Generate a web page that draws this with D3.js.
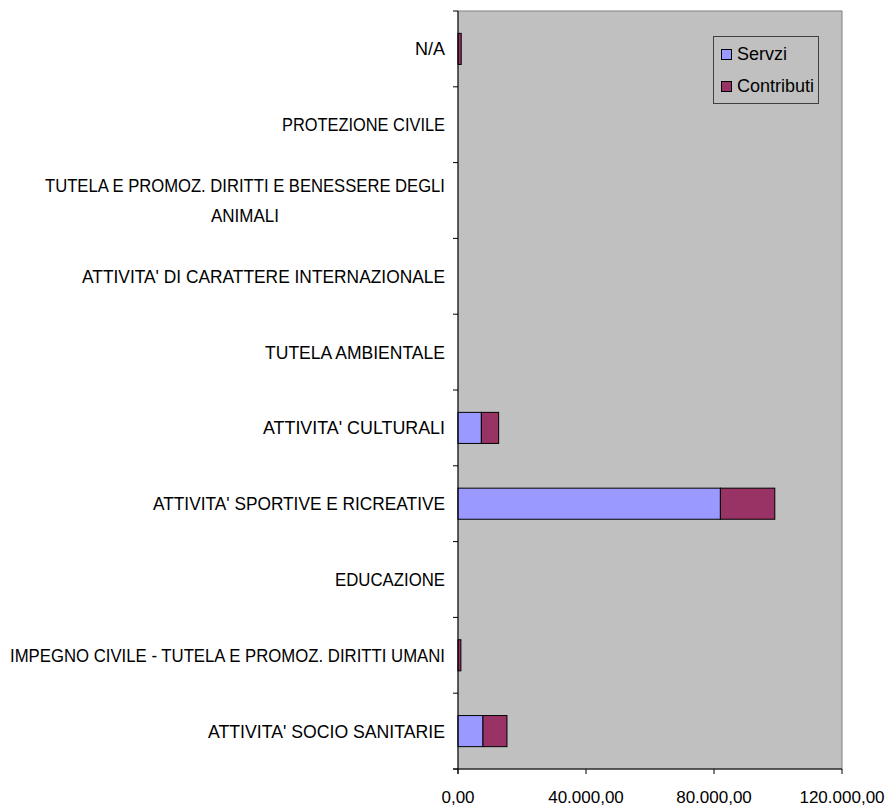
<!DOCTYPE html>
<html><head><meta charset="utf-8">
<script src="https://cdn.jsdelivr.net/npm/d3@7"></script>
<style>body{margin:0;background:#fff}svg{display:block}text{font-family:"Liberation Sans",Arial,sans-serif;fill:#000}</style>
</head><body>
<script>
// categories listed top to bottom
const categories = [
  ["N/A"],
  ["PROTEZIONE CIVILE"],
  ["TUTELA E PROMOZ. DIRITTI E BENESSERE DEGLI", "ANIMALI"],
  ["ATTIVITA' DI CARATTERE INTERNAZIONALE"],
  ["TUTELA AMBIENTALE"],
  ["ATTIVITA' CULTURALI"],
  ["ATTIVITA' SPORTIVE E RICREATIVE"],
  ["EDUCAZIONE"],
  ["IMPEGNO CIVILE - TUTELA E PROMOZ. DIRITTI UMANI"],
  ["ATTIVITA' SOCIO SANITARIE"]
];
const servizi    = [0, 0, 0, 0, 0, 7300, 82000, 0, 0, 7800];
const contributi = [1000, 0, 0, 0, 0, 5400, 17000, 0, 900, 7500];
const seriesNames = ["Servzi", "Contributi"];
const xTicks = [0, 40000, 80000, 120000];

(function () {
const W = 890, H = 807;
const pL = 458, pR = 842, pT = 11, pB = 769;
const colors = ["#9999FF", "#993366"];
// rendered widths of label lines in the reference (style only)
const labelWidths = {
  "N/A": 30, "PROTEZIONE CIVILE": 163, "TUTELA E PROMOZ. DIRITTI E BENESSERE DEGLI": 400,
  "ANIMALI": 68, "ATTIVITA' DI CARATTERE INTERNAZIONALE": 363, "TUTELA AMBIENTALE": 180,
  "ATTIVITA' CULTURALI": 182, "ATTIVITA' SPORTIVE E RICREATIVE": 292, "EDUCAZIONE": 110,
  "IMPEGNO CIVILE - TUTELA E PROMOZ. DIRITTI UMANI": 435, "ATTIVITA' SOCIO SANITARIE": 237
};

const svg = d3.select("body").append("svg").attr("width", W).attr("height", H);

const x = d3.scaleLinear().domain([0, 120000]).range([pL, pR]);
const y = d3.scaleBand().domain(d3.range(categories.length)).range([pT, pB]).padding(0);
const barH = y.bandwidth() * 0.41;

svg.append("rect").attr("x", pL).attr("y", pT).attr("width", pR - pL).attr("height", pB - pT)
  .attr("fill", "#C0C0C0").attr("stroke", "#808080").attr("stroke-width", 1);

const locale = d3.formatLocale({decimal: ",", thousands: ".", grouping: [3], currency: ["€", ""]});
const fmt = locale.format(",.2f");

// bars
const g = svg.append("g");
categories.forEach((c, i) => {
  const yc = y(i) + y.bandwidth() / 2;
  const vals = [servizi[i], contributi[i]];
  let acc = 0;
  vals.forEach((v, k) => {
    if (v > 0) {
      g.append("rect")
        .attr("x", x(acc)).attr("y", yc - barH / 2)
        .attr("width", x(acc + v) - x(acc)).attr("height", barH)
        .attr("fill", colors[k]).attr("stroke", "#000").attr("stroke-width", 1);
    }
    acc += v;
  });
});

// y axis line and ticks
svg.append("line").attr("x1", pL).attr("x2", pL).attr("y1", pT).attr("y2", pB + 5).attr("stroke", "#000");
d3.range(categories.length + 1).forEach(i => {
  const yy = pT + i * y.bandwidth();
  svg.append("line").attr("x1", pL - 5).attr("x2", pL).attr("y1", yy).attr("y2", yy).attr("stroke", "#000");
});
// x axis line and ticks
svg.append("line").attr("x1", pL - 5).attr("x2", pR).attr("y1", pB).attr("y2", pB).attr("stroke", "#000");
xTicks.forEach(t => {
  svg.append("line").attr("x1", x(t)).attr("x2", x(t)).attr("y1", pB).attr("y2", pB + 5).attr("stroke", "#000");
  svg.append("text").attr("x", x(t)).attr("y", 803).attr("text-anchor", "middle")
    .style("font-size", "17px").text(fmt(t));
});

// category labels
const labelRight = 445, lh = 30;
categories.forEach((lines, i) => {
  const yc = y(i) + y.bandwidth() / 2;
  const blockW = labelWidths[lines[0]];
  const cx = labelRight - blockW / 2;
  lines.forEach((ln, j) => {
    const w = labelWidths[ln];
    const xx = lines.length === 1 ? labelRight - w : cx - w / 2;
    svg.append("text").attr("x", xx)
      .attr("y", yc + 6.5 + (j - (lines.length - 1) / 2) * lh)
      .attr("textLength", w).attr("lengthAdjust", "spacingAndGlyphs")
      .style("font-size", "18px").text(ln);
  });
});

// legend
const lg = svg.append("g");
lg.append("rect").attr("x", 713.5).attr("y", 36.5).attr("width", 105).attr("height", 67)
  .attr("fill", "none").attr("stroke", "#404040").attr("stroke-width", 1);
seriesNames.forEach((n, k) => {
  const yy = 49 + k * 32;
  lg.append("rect").attr("x", 721.5).attr("y", yy + 0.5).attr("width", 10).attr("height", 10)
    .attr("fill", colors[k]).attr("stroke", "#000");
  lg.append("text").attr("x", 737).attr("y", yy + 11).style("font-size", "18px").text(n);
});
})();
</script>
</body></html>
